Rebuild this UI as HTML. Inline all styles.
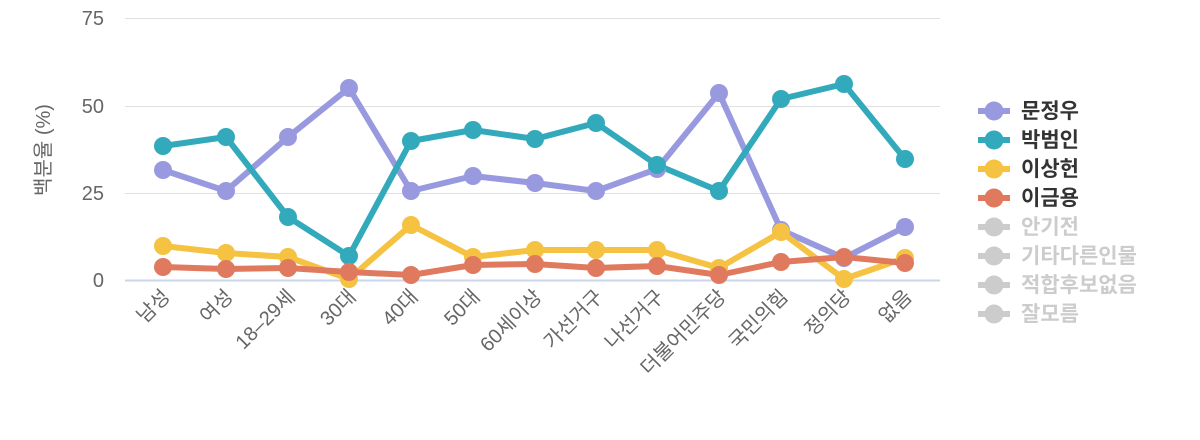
<!DOCTYPE html>
<html><head><meta charset="utf-8"><style>body{margin:0;background:#fff}svg{display:block}text{font-family:"Liberation Sans","Noto Sans CJK KR",sans-serif}</style></head><body>
<svg width="1200" height="440" viewBox="0 0 1200 440">
<g stroke="#e0e0e0" stroke-width="1">
<line x1="125" y1="18.5" x2="940" y2="18.5"/><line x1="125" y1="106.5" x2="940" y2="106.5"/><line x1="125" y1="193.5" x2="940" y2="193.5"/>
</g>
<line x1="125" y1="280.5" x2="940" y2="280.5" stroke="#ccd6eb" stroke-width="2"/>
<g fill="#666" font-size="20" text-anchor="end">
<text x="104" y="25">75</text><text x="104" y="113">50</text><text x="104" y="200">25</text><text x="104" y="287">0</text>
</g>
<text transform="translate(50,150) rotate(-90)" text-anchor="middle" fill="#666" font-size="20">백분율 (%)</text>
<g fill="#666" font-size="20" text-anchor="end">
<text transform="translate(171,298) rotate(-45)">남성</text>
<text transform="translate(234,298) rotate(-45)">여성</text>
<text transform="translate(296,298) rotate(-45)">18–29세</text>
<text transform="translate(357,298) rotate(-45)">30대</text>
<text transform="translate(419,298) rotate(-45)">40대</text>
<text transform="translate(481,298) rotate(-45)">50대</text>
<text transform="translate(543,298) rotate(-45)">60세이상</text>
<text transform="translate(604,298) rotate(-45)">가선거구</text>
<text transform="translate(665,298) rotate(-45)">나선거구</text>
<text transform="translate(727,298) rotate(-45)">더불어민주당</text>
<text transform="translate(789,298) rotate(-45)">국민의힘</text>
<text transform="translate(852,298) rotate(-45)">정의당</text>
<text transform="translate(913,298) rotate(-45)">없음</text>
</g>
<g fill="none" stroke-width="6" stroke-linejoin="round">
<polyline stroke="#9999e0" points="163,170 226,191 288,137 349,88 411,191 473,176 535,183 596,191 657,169 719,93 781,230 844,258 905,227"/>
<polyline stroke="#33aabb" points="163,146 226,137 288,217 349,256 411,141 473,130 535,139 596,123 657,165 719,191 781,99 844,84 905,159"/>
<polyline stroke="#f5c242" points="163,246 226,253 288,257 349,279 411,225 473,257 535,250 596,250 657,250 719,268 781,232 844,279 905,258"/>
<polyline stroke="#e07a5f" points="163,267 226,269 288,268 349,272 411,275 473,265 535,264 596,268 657,266 719,275 781,262 844,257 905,263"/>
</g>
<g>
<g fill="#9999e0"><circle cx="163" cy="170" r="9"/><circle cx="226" cy="191" r="9"/><circle cx="288" cy="137" r="9"/><circle cx="349" cy="88" r="9"/><circle cx="411" cy="191" r="9"/><circle cx="473" cy="176" r="9"/><circle cx="535" cy="183" r="9"/><circle cx="596" cy="191" r="9"/><circle cx="657" cy="169" r="9"/><circle cx="719" cy="93" r="9"/><circle cx="781" cy="230" r="9"/><circle cx="844" cy="258" r="9"/><circle cx="905" cy="227" r="9"/></g>
<g fill="#33aabb"><circle cx="163" cy="146" r="9"/><circle cx="226" cy="137" r="9"/><circle cx="288" cy="217" r="9"/><circle cx="349" cy="256" r="9"/><circle cx="411" cy="141" r="9"/><circle cx="473" cy="130" r="9"/><circle cx="535" cy="139" r="9"/><circle cx="596" cy="123" r="9"/><circle cx="657" cy="165" r="9"/><circle cx="719" cy="191" r="9"/><circle cx="781" cy="99" r="9"/><circle cx="844" cy="84" r="9"/><circle cx="905" cy="159" r="9"/></g>
<g fill="#f5c242"><circle cx="163" cy="246" r="9"/><circle cx="226" cy="253" r="9"/><circle cx="288" cy="257" r="9"/><circle cx="349" cy="279" r="9"/><circle cx="411" cy="225" r="9"/><circle cx="473" cy="257" r="9"/><circle cx="535" cy="250" r="9"/><circle cx="596" cy="250" r="9"/><circle cx="657" cy="250" r="9"/><circle cx="719" cy="268" r="9"/><circle cx="781" cy="232" r="9"/><circle cx="844" cy="279" r="9"/><circle cx="905" cy="258" r="9"/></g>
<g fill="#e07a5f"><circle cx="163" cy="267" r="9"/><circle cx="226" cy="269" r="9"/><circle cx="288" cy="268" r="9"/><circle cx="349" cy="272" r="9"/><circle cx="411" cy="275" r="9"/><circle cx="473" cy="265" r="9"/><circle cx="535" cy="264" r="9"/><circle cx="596" cy="268" r="9"/><circle cx="657" cy="266" r="9"/><circle cx="719" cy="275" r="9"/><circle cx="781" cy="262" r="9"/><circle cx="844" cy="257" r="9"/><circle cx="905" cy="263" r="9"/></g>
</g>
<g font-size="21" font-weight="bold">
<g fill="#9999e0"><rect x="978" y="108" width="32" height="6"/><circle cx="994" cy="111" r="9.5"/></g><text x="1021" y="118" fill="#333">문정우</text>
<g fill="#33aabb"><rect x="978" y="137" width="32" height="6"/><circle cx="994" cy="140" r="9.5"/></g><text x="1021" y="147" fill="#333">박범인</text>
<g fill="#f5c242"><rect x="978" y="166" width="32" height="6"/><circle cx="994" cy="169" r="9.5"/></g><text x="1021" y="176" fill="#333">이상헌</text>
<g fill="#e07a5f"><rect x="978" y="195" width="32" height="6"/><circle cx="994" cy="198" r="9.5"/></g><text x="1021" y="205" fill="#333">이금용</text>
<g fill="#cccccc"><rect x="978" y="224" width="32" height="6"/><circle cx="994" cy="227" r="9.5"/><rect x="978" y="253" width="32" height="6"/><circle cx="994" cy="256" r="9.5"/><rect x="978" y="282" width="32" height="6"/><circle cx="994" cy="285" r="9.5"/><rect x="978" y="311" width="32" height="6"/><circle cx="994" cy="314" r="9.5"/></g>
<g fill="#cccccc"><text x="1021" y="234">안기전</text><text x="1021" y="263">기타다른인물</text><text x="1021" y="292">적합후보없음</text><text x="1021" y="321">잘모름</text></g>
</g>
</svg>
</body></html>
